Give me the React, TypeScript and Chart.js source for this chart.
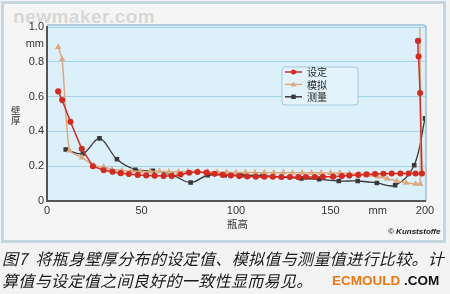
import React, { useEffect, useRef } from "react";
import { Chart, registerables } from "chart.js";

Chart.register(...registerables);

// 设定 (set values)
const setX = [5.9, 8, 12.4, 18.4, 24.3, 30, 34.6, 39, 43.3, 48, 52.5, 57, 61.7, 66, 70.7, 75.2, 79.6, 84.4, 88.7, 93, 97.3, 101.7, 106, 110.5, 115, 119.5, 124, 128.5, 133, 137, 141.7, 146, 151.4, 156, 160, 164.7, 169, 173.6, 178, 182.4, 187, 191.3, 195, 198.4, 197.4, 196.6, 196.3];
const setY = [0.63, 0.58, 0.455, 0.3, 0.2, 0.177, 0.168, 0.16, 0.155, 0.15, 0.147, 0.145, 0.143, 0.143, 0.152, 0.162, 0.167, 0.163, 0.156, 0.15, 0.146, 0.143, 0.141, 0.14, 0.139, 0.139, 0.138, 0.138, 0.137, 0.138, 0.138, 0.139, 0.14, 0.143, 0.146, 0.15, 0.153, 0.155, 0.157, 0.158, 0.158, 0.158, 0.158, 0.158, 0.62, 0.83, 0.92];

// 模拟 (simulated values)
const simX = [5.9, 8, 11.9, 18.5, 24.6, 30, 34.4, 39.7, 44.5, 49.5, 54.5, 59.5, 64.5, 69.5, 74.5, 80, 85, 90, 95, 100, 105, 110, 115, 120, 125, 130, 135, 140, 145, 150, 155, 160, 165, 170, 175, 180, 185, 190, 195, 197.5, 197.2];
const simY = [0.885, 0.815, 0.29, 0.25, 0.205, 0.196, 0.182, 0.176, 0.172, 0.17, 0.17, 0.17, 0.168, 0.168, 0.17, 0.17, 0.168, 0.166, 0.165, 0.164, 0.164, 0.163, 0.163, 0.163, 0.163, 0.162, 0.162, 0.162, 0.162, 0.161, 0.16, 0.158, 0.155, 0.15, 0.14, 0.128, 0.115, 0.105, 0.098, 0.098, 1.1];

// 测量 (measured values)
const measX = [9.9, 19, 27.8, 37, 46.8, 56, 66, 76, 85, 94, 103.5, 114, 124, 134.6, 144, 154.4, 164.4, 174.5, 184.2, 194.3, 200];
const measY = [0.296, 0.273, 0.36, 0.24, 0.18, 0.173, 0.15, 0.106, 0.148, 0.148, 0.148, 0.145, 0.138, 0.13, 0.125, 0.115, 0.115, 0.104, 0.09, 0.206, 0.475];

const seriesNames = ["设定", "模拟", "测量"];
const xTicks = [0, 50, 100, 150, 175, 200];
const xTickLabels = ["0", "50", "100", "150", "mm", "200"];
const yTicks = [0, 0.2, 0.4, 0.6, 0.8, 0.9, 1.0];
const yTickLabels = ["0", "0.2", "0.4", "0.6", "0.8", "mm", "1.0"];

const toPts = (xs: number[], ys: number[]) => xs.map((x, i) => ({ x, y: ys[i] }));

const plotBg = {
  id: "plotBg",
  beforeDraw(chart: any) {
    const { ctx, chartArea: a } = chart;
    ctx.save();
    ctx.fillStyle = "#dcf0fa";
    ctx.fillRect(a.left, a.top - 2, a.right - a.left + 1, a.bottom - a.top + 2);
    ctx.strokeStyle = "#9cbfd6";
    ctx.lineWidth = 1.5;
    ctx.beginPath();
    ctx.moveTo(a.left, a.top - 2);
    ctx.lineTo(a.right - 2, a.top - 2);
    ctx.quadraticCurveTo(a.right + 1, a.top - 2, a.right + 1, a.top + 1);
    ctx.lineTo(a.right + 1, a.bottom);
    ctx.stroke();
    ctx.restore();
  },
};

const legendBox = {
  id: "legendBox",
  afterDraw(chart: any) {
    const { ctx } = chart;
    ctx.save();
    const x0 = 282, y0 = 67, w = 76, h = 38, r = 3;
    ctx.beginPath();
    ctx.moveTo(x0 + r, y0);
    ctx.lineTo(x0 + w - r, y0);
    ctx.quadraticCurveTo(x0 + w, y0, x0 + w, y0 + r);
    ctx.lineTo(x0 + w, y0 + h - r);
    ctx.quadraticCurveTo(x0 + w, y0 + h, x0 + w - r, y0 + h);
    ctx.lineTo(x0 + r, y0 + h);
    ctx.quadraticCurveTo(x0, y0 + h, x0, y0 + h - r);
    ctx.lineTo(x0, y0 + r);
    ctx.quadraticCurveTo(x0, y0, x0 + r, y0);
    ctx.closePath();
    ctx.fillStyle = "#e2f3fb";
    ctx.fill();
    ctx.strokeStyle = "#a4c8dc";
    ctx.lineWidth = 1;
    ctx.stroke();
    chart.data.datasets.forEach((ds: any, i: number) => {
      const y = 72 + i * 12.4;
      ctx.strokeStyle = ds.borderColor;
      ctx.lineWidth = 1.5;
      ctx.beginPath();
      ctx.moveTo(285, y);
      ctx.lineTo(302, y);
      ctx.stroke();
      ctx.fillStyle = ds.pointBackgroundColor;
      ctx.beginPath();
      if (ds.pointStyle === "circle") {
        ctx.arc(293.5, y, 2.5, 0, Math.PI * 2);
      } else if (ds.pointStyle === "rect") {
        ctx.rect(291.3, y - 2.2, 4.4, 4.4);
      } else {
        ctx.moveTo(293.5, y - 2.8);
        ctx.lineTo(296.3, y + 2);
        ctx.lineTo(290.7, y + 2);
        ctx.closePath();
      }
      ctx.fill();
      ctx.fillStyle = "#222";
      ctx.font = '10px "Noto Sans CJK SC"';
      ctx.textBaseline = "middle";
      ctx.textAlign = "left";
      ctx.fillText(ds.label, 307, y + 0.5);
    });
    ctx.restore();
  },
};

function ChartCanvas() {
  const ref = useRef<HTMLCanvasElement | null>(null);
  useEffect(() => {
    if (!ref.current) return;
    const chart = new Chart(ref.current, {
      type: "line",
      data: {
        datasets: [
          {
            label: seriesNames[0],
            data: toPts(setX, setY),
            borderColor: "#d42a20",
            backgroundColor: "#d42a20",
            pointBackgroundColor: "#d42a20",
            pointBorderColor: "#d42a20",
            pointStyle: "circle",
            pointRadius: 2.3,
            borderWidth: 1.5,
            tension: 0,
          },
          {
            label: seriesNames[1],
            data: toPts(simX, simY),
            borderColor: "#dcaa80",
            backgroundColor: "#dcaa80",
            pointBackgroundColor: "#dcaa80",
            pointBorderColor: "#dcaa80",
            pointStyle: "triangle",
            pointRadius: 2.3,
            borderWidth: 1.5,
            tension: 0.2,
          },
          {
            label: seriesNames[2],
            data: toPts(measX, measY),
            borderColor: "#3a3a3a",
            backgroundColor: "#3a3a3a",
            pointBackgroundColor: "#3a3a3a",
            pointBorderColor: "#3a3a3a",
            pointStyle: "rect",
            pointRadius: 2.3,
            borderWidth: 1.3,
            tension: 0.35,
          },
        ] as any,
      },
      options: {
        animation: false,
        responsive: false,
        maintainAspectRatio: false,
        layout: { padding: { top: 27, right: 25, left: 0, bottom: 0 } },
        plugins: { legend: { display: false }, tooltip: { enabled: false } },
        scales: {
          x: {
            type: "linear",
            min: 0,
            max: 200,
            afterBuildTicks: (s: any) => {
              s.ticks = xTicks.map((v) => ({ value: v }));
            },
            afterFit: (s: any) => {
              s.height = 44;
            },
            ticks: {
              padding: 3,
              color: "#333",
              font: { family: "Liberation Sans", size: 11 },
              maxRotation: 0,
              autoSkip: false,
              callback: (v: any) => xTickLabels[xTicks.indexOf(Number(v))] ?? String(v),
            },
            grid: { display: false, drawTicks: false },
            border: { display: true, color: "#555", width: 2 },
          },
          y: {
            type: "linear",
            min: 0,
            max: 1.0,
            afterBuildTicks: (s: any) => {
              s.ticks = yTicks.map((v) => ({ value: v }));
            },
            afterFit: (s: any) => {
              s.width = 47;
            },
            ticks: {
              padding: 3,
              color: "#333",
              font: { family: "Liberation Sans", size: 11 },
              autoSkip: false,
              callback: (v: any) => {
                const i = yTicks.findIndex((t) => Math.abs(t - Number(v)) < 1e-6);
                return i >= 0 ? yTickLabels[i] : String(v);
              },
            },
            grid: {
              drawTicks: false,
              lineWidth: 1,
              color: (c: any) => {
                const v = c.tick ? c.tick.value : 0;
                if (Math.abs(v - 0.9) < 1e-6 || Math.abs(v) < 1e-6) return "rgba(0,0,0,0)";
                return "#a2d4ea";
              },
            },
            border: { display: true, color: "#555", width: 2 },
          },
        },
      } as any,
      plugins: [plotBg, legendBox],
    });
    return () => chart.destroy();
  }, []);
  return (
    <canvas
      ref={ref}
      width={450}
      height={245}
      style={{ position: "absolute", left: 0, top: 0, width: 450, height: 245 }}
    />
  );
}

export default function App() {
  const abs = (s: React.CSSProperties): React.CSSProperties => ({ position: "absolute", whiteSpace: "nowrap", ...s });
  return (
    <div
      style={{
        position: "fixed",
        left: 0,
        top: 0,
        width: 450,
        height: 294,
        background: "#f3f3f3",
        overflow: "hidden",
        fontFamily: '"Noto Sans CJK SC", "Liberation Sans", sans-serif',
      }}
    >
      <div
        style={abs({
          left: 1,
          top: 1,
          width: 439,
          height: 236,
          border: "3px solid #c7d5df",
          background: "#f5f5f5",
        })}
      />
      <div
        style={abs({
          left: 13,
          top: 6,
          fontFamily: "Liberation Sans",
          fontWeight: "bold",
          fontSize: 19,
          color: "rgba(195,195,195,0.6)",
          letterSpacing: 0.5,
        })}
      >
        newmaker.com
      </div>
      <ChartCanvas />
      <div style={abs({ left: 11, top: 105, width: 10, fontSize: 9.5, lineHeight: "10px", color: "#333" })}>
        {"壁"}
        <br />
        {"厚"}
      </div>
      <div style={abs({ left: 227, top: 217, fontSize: 10.5, lineHeight: "14px", color: "#333" })}>瓶高</div>
      <div
        style={abs({
          left: 388,
          top: 227,
          fontSize: 8,
          lineHeight: "10px",
          fontFamily: "Liberation Sans",
          fontStyle: "italic",
          fontWeight: "bold",
          color: "#222",
        })}
      >
        © Kunststoffe
      </div>
      <div
        style={abs({
          left: 2,
          top: 248,
          fontSize: 16,
          lineHeight: "20px",
          fontStyle: "italic",
          letterSpacing: 0.35,
          color: "#1a1a1a",
        })}
      >
        图7&nbsp;&nbsp;将瓶身壁厚分布的设定值、模拟值与测量值进行比较。计
      </div>
      <div
        style={abs({
          left: 2,
          top: 270,
          fontSize: 16,
          lineHeight: "20px",
          fontStyle: "italic",
          letterSpacing: 0.35,
          color: "#1a1a1a",
        })}
      >
        算值与设定值之间良好的一致性显而易见。
      </div>
      <div
        style={abs({
          left: 332,
          top: 272,
          fontSize: 13.5,
          lineHeight: "18px",
          fontFamily: "Liberation Sans",
          fontWeight: "bold",
        })}
      >
        <span style={{ color: "#f07810" }}>ECMOULD</span>
        <span style={{ color: "#111" }}> .COM</span>
      </div>
    </div>
  );
}
